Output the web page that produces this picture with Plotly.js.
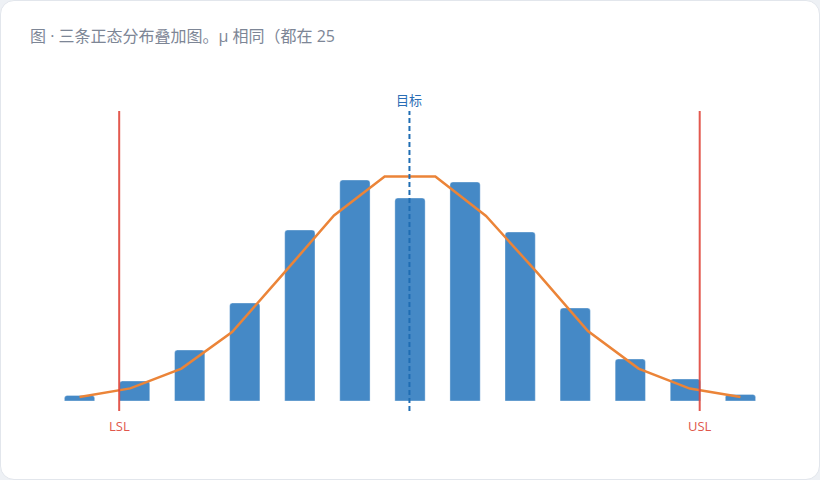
<!DOCTYPE html>
<html>
<head>
<meta charset="utf-8">
<script src="https://cdn.plot.ly/plotly-3.0.1.min.js"></script>
<style>
	html, body {margin:0; padding:0; background:#eef1f5;}
	#card {position:absolute; left:0; top:0; width:820px; height:480px; box-sizing:border-box;
		background:#ffffff; border:1px solid #e2e6ec; border-radius:14px; overflow:hidden;}
	#myDiv {position:absolute; left:0; top:0; width:820px; height:480px;}
</style>
</head>
<body>
<div id="card"><div id="myDiv"></div></div>
<script>
// histogram bins (13) and fitted curve (14 points)
var binX = [0, 1, 2, 3, 4, 5, 6, 7, 8, 9, 10, 11, 12];
var binCount = [2.8, 10, 25.5, 49, 85.5, 110.5, 101.5, 109.5, 84.5, 46.5, 21, 11, 3.3];
var curveX = [0, 0.92, 1.85, 2.77, 3.69, 4.62, 5.54, 6.46, 7.38, 8.31, 9.23, 10.15, 11.08, 12];
var curveY = [2, 6.3, 16.2, 34.5, 63.3, 92.8, 112.3, 112.3, 92.5, 64.2, 35, 16.2, 6.2, 2];
var specLSL = 0.72;
var specUSL = 11.26;
var target = 5.99;

var C_FONT = '"Open Sans", "Noto Sans CJK SC", sans-serif';

var data = [
	{
		x: binX,
		y: binCount,
		type: 'bar',
		name: '频数',
		marker: {color: '#4589c6', cornerradius: 3, line: {color: 'rgba(255,255,255,0.35)', width: 1}},
		width: 0.55,
		hoverinfo: 'y'
	},
	{
		x: curveX,
		y: curveY,
		type: 'scatter',
		mode: 'lines',
		name: '正态拟合',
		line: {color: '#eb8438', width: 2.5},
		hoverinfo: 'y'
	}
];

var layout = {
	width: 820,
	height: 480,
	paper_bgcolor: 'rgba(0,0,0,0)',
	plot_bgcolor: 'rgba(0,0,0,0)',
	font: {family: C_FONT, color: '#6b7280'},
	title: {
		text: '图 · 三条正态分布叠加图。μ 相同（都在 25',
		xref: 'container', yref: 'container',
		x: 29/820, xanchor: 'left',
		y: 1 - 35/480, yanchor: 'middle',
		font: {size: 16, color: '#7d8696', family: C_FONT}
	},
	margin: {l: 51, r: 53, t: 110, b: 80, pad: 0},
	showlegend: false,
	xaxis: {range: [-0.5, 12.5], showticklabels: false, showgrid: false, zeroline: false, showline: false, ticks: ''},
	yaxis: {range: [0, 145], showticklabels: false, showgrid: false, zeroline: false, showline: false, ticks: ''},
	shapes: [
		{type: 'line', xref: 'x', yref: 'paper', x0: specLSL, x1: specLSL, y0: -10/290, y1: 1,
			line: {color: '#e0473c', width: 2}, opacity: 0.9},
		{type: 'line', xref: 'x', yref: 'paper', x0: specUSL, x1: specUSL, y0: -10/290, y1: 1,
			line: {color: '#e0473c', width: 2}, opacity: 0.9},
		{type: 'line', xref: 'x', yref: 'paper', x0: target, x1: target, y0: -10/290, y1: 1,
			line: {color: '#1f6db3', width: 2, dash: '5px,3px'}}
	],
	annotations: [
		{x: target, xref: 'x', y: 1 + 11/290, yref: 'paper', text: '目标', showarrow: false,
			xanchor: 'center', yanchor: 'middle', font: {size: 13, color: '#2a6db5'}},
		{x: specLSL, xref: 'x', y: -25/290, yref: 'paper', text: 'LSL', showarrow: false,
			xanchor: 'center', yanchor: 'middle', font: {size: 13, color: '#e0574c'}},
		{x: specUSL, xref: 'x', y: -25/290, yref: 'paper', text: 'USL', showarrow: false,
			xanchor: 'center', yanchor: 'middle', font: {size: 13, color: '#e0574c'}}
	]
};

Plotly.newPlot('myDiv', data, layout, {displayModeBar: false, responsive: false});
</script>
</body>
</html>
